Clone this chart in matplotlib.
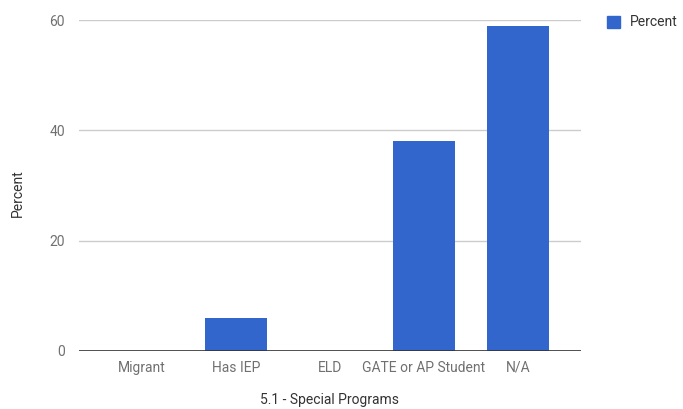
import numpy as np
from matplotlib import pyplot as plt
from matplotlib.patches import Patch

plt.rcParams.update({"font.family": ["Roboto", "DejaVu Sans"],
                     "font.size": 10})

categories = ["Migrant", "Has IEP", "ELD", "GATE or AP Student", "N/A"]
percent = [0, 6, 0, 38, 59]
yticks = [0, 20, 40, 60]

fig = plt.figure(figsize=[6.83, 4.09], dpi=100)
ax = fig.add_axes([79/683, 58/409, 502/683, 331/409])

x = np.arange(len(categories))
ax.bar(x, percent, width=0.65, color="#3366cc", zorder=3)

ax.set_xlim(-0.67, 4.67)
ax.set_ylim(0, 60)
ax.set_yticks(yticks)
ax.set_xticks(x)
ax.set_xticklabels(categories)
ax.grid(axis="y", color="#cccccc", linewidth=1, zorder=0)
ax.axhline(0, color="#333333", linewidth=1.2, zorder=4)

for s in ax.spines.values():
    s.set_visible(False)
ax.tick_params(length=0, colors="#707070", labelsize=10)
ax.tick_params(axis="y", pad=10)
ax.tick_params(axis="x", pad=7)

# axis titles placed in figure pixels
fig.text(18/683, 1 - 193/409, "Percent", rotation=90, ha="center", va="center",
         color="#333333", fontsize=10)
fig.text(330/683, 1 - 400/409, "5.1 - Special Programs", ha="center", va="center",
         color="#333333", fontsize=10)

ax.legend(handles=[Patch(color="#3366cc", label="Percent")],
          loc="upper left", bbox_to_anchor=(594/683, 1 - 3/409),
          bbox_transform=fig.transFigure, frameon=False,
          handlelength=1.0, handleheight=1.0, handletextpad=0.7,
          labelcolor="#333333", fontsize=10)

plt.savefig("out.png", dpi=100)
